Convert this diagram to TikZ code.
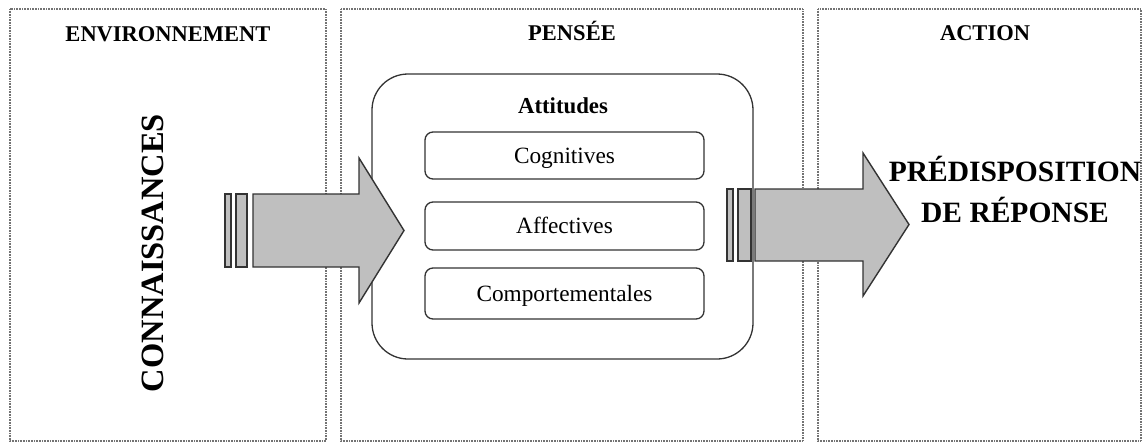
\documentclass[tikz,border=0pt]{standalone}
\usepackage{fontspec}
\setmainfont{Liberation Serif}
\begin{document}
\begin{tikzpicture}[x=1pt,y=-1pt,
  panel/.style={draw=black!55,line width=1.1pt,dash pattern=on 0.8pt off 0.8pt},
  title/.style={font=\fontsize{22.5}{27}\selectfont\bfseries,inner sep=0pt,anchor=base},
  bigbox/.style={draw=black!80,line width=1.3pt,rounded corners=36pt},
  attbox/.style={draw=black!80,line width=1.3pt,rounded corners=8pt,minimum width=279pt,font=\fontsize{23.3}{28}\selectfont,inner sep=0pt,text height=17pt,text depth=2pt},
  predtext/.style={font=\fontsize{29.5}{36}\selectfont\bfseries,inner sep=0pt,anchor=base},
  fatarrow/.style={draw=black!80,line width=1.4pt,fill=black!25,line join=miter},
  bar/.style={draw=black!80,line width=1.4pt,fill=black!25}]
\useasboundingbox (0,0) rectangle (1143,445);
% panels
\draw[panel] (10,9) rectangle (326,441);
\draw[panel] (341,9) rectangle (803,441);
\draw[panel] (818,9) rectangle (1141,441);
\node[title] (tenv) at (168,41) {ENVIRONNEMENT};
\node[title] (tpen) at (572,40.5) {PENSÉE};
\node[title] (tact) at (985,40.5) {ACTION};
% left text
\node[font=\fontsize{32.5}{38}\selectfont\bfseries,rotate=90,inner sep=0pt] (conn) at (153,253) {CONNAISSANCES};
% big box
\draw[bigbox] (372,74) rectangle (753,359);
\node[font=\fontsize{22.8}{27}\selectfont\bfseries,inner sep=0pt,anchor=base] (att) at (563,113) {Attitudes};
\node[attbox,minimum height=47pt] (cog) at (564.5,155.5) {Cognitives};
\node[attbox,minimum height=48pt] (aff) at (564.5,226) {Affectives};
\node[attbox,minimum height=51pt] (comp) at (564.5,293.5) {Comportementales};
% left arrow
\draw[bar] (225,194) rectangle (231,267);
\draw[bar] (236,194) rectangle (247,267);
\draw[fatarrow] (253,194) -- (359,194) -- (359,158) -- (404,230.5) -- (359,303) -- (359,267) -- (253,267) -- cycle;
% right arrow
\draw[bar] (727,189) rectangle (733,261);
\draw[bar] (738,189) rectangle (751,261);
\draw[fatarrow] (755,189) -- (863,189) -- (863,153) -- (909,224.5) -- (863,296) -- (863,261) -- (755,261) -- cycle;
% right text
\node[predtext] (pred1) at (1015,181) {PRÉDISPOSITION};
\node[predtext] (pred2) at (1015,222) {DE RÉPONSE};
\end{tikzpicture}
\end{document}
